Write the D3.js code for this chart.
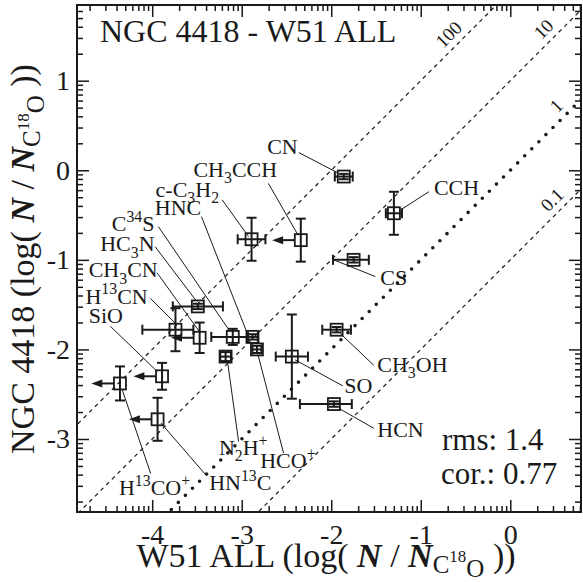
<!DOCTYPE html>
<html>
<head>
<meta charset="utf-8">
<script src="https://cdn.jsdelivr.net/npm/d3@7"></script>
<style>
  body { margin: 0; background: #fff; }
  svg { display: block; }
  text { font-family: "Liberation Serif", "Times New Roman", serif; fill: #1a1a1a; }
</style>
</head>
<body>
<svg id="chart" width="583" height="582"></svg>
<script>
// Molecule names (with _ for subscript, ^ for superscript)
const molecules = ["CN", "CCH", "CS", "CH_3CCH", "c-C_3H_2", "HC_3N", "H^{13}CN", "CH_3CN",
  "C^{34}S", "HNC", "HCO^+", "N_2H^+", "SiO", "H^{13}CO^+", "HN^{13}C", "SO", "CH_3OH", "HCN"];
// log(N / N_C18O) in W51 ALL
const w51 = [-1.86, -1.30, -1.75, -2.34, -2.89, -3.49, -3.74, -3.47,
  -3.10, -2.88, -2.83, -3.18, -3.89, -4.36, -3.94, -2.44, -1.94, -1.97];
// log(N / N_C18O) in NGC 4418
const ngc = [-0.07, -0.48, -1.00, -0.78, -0.77, -1.52, -1.78, -1.87,
  -1.86, -1.86, -2.00, -2.08, -2.30, -2.38, -2.78, -2.08, -1.78, -2.61];
// Uncertainties (dex)
const xErrLow = [0.10, 0.09, 0.23, 0, 0.155, 0.28, 0.37, 0,
  0.24, 0.06, 0.05, 0.06, 0, 0, 0, 0.18, 0.16, 0.38];
const xErrHigh = [0.10, 0.09, 0.17, 0, 0.155, 0.28, 0.20, 0,
  0.17, 0.06, 0.05, 0.06, 0, 0, 0, 0.18, 0.16, 0.20];
const yErr = [0.03, 0.24, 0.03, 0.24, 0.24, 0.03, 0.24, 0.17,
  0.09, 0.03, 0.04, 0.05, 0.15, 0.19, 0.24, 0.47, 0.03, 0.03];
// Upper limits in W51 ALL
const w51UpperLimit = [false, false, false, true, false, false, false, true,
  false, false, false, false, true, true, true, false, false, false];
const upperLimitLength = 0.32;

// Abundance-ratio reference lines (NGC 4418 / W51)
const ratioLines = [100, 10, 1, 0.1];
const ratioLabels = ["100", "10", "1", "0.1"];
const ratioLabelX = [-0.586, 0.474, 0.616, 0.568];

const xTicks = [-4, -3, -2, -1, 0];
const yTicks = [-3, -2, -1, 0, 1];

const titleText = "NGC 4418 - W51 ALL";
const rmsText = "rms: 1.4";
const corText = "cor.: 0.77";

// Label placement, pixel offsets from each point
const labelLayout = {
  "CN":         { text: [-76.6, -22.3], from: [-45, -24],     to: [-6.6, -4] },
  "CCH":        { text: [40, -18.3],    from: [35, -21.6],    to: [6.7, -3.3] },
  "CS":         { text: [26.7, 25],     from: [21.7, 16.7],   to: [-20, 0] },
  "CH_3CCH":    { text: [-107.4, -63.3],from: [-32.4, -56.7], to: [-2.7, -5] },
  "c-C_3H_2":   { text: [-96, -42.6],   from: [-29.3, -39.3], to: [-3, -2.6] },
  "HNC":        { text: [-97.7, -122.3],from: [-51, -120.3],  to: [-4.7, -2.3] },
  "C^{34}S":    { text: [-121, -105.6], from: [-74.4, -110.3],to: [-2.7, -5.3] },
  "HC_3N":      { text: [-97.7, -55],   from: [-42.7, -59.7], to: [-1.7, -5.7] },
  "CH_3CN":     { text: [-111, -60.3],  from: [-42.6, -65],   to: [-0.3, -6.3] },
  "H^{13}CN":   { text: [-90, -26],     from: [-25, -31.3],   to: [0, -6.3] },
  "SiO":        { text: [-73.4, -53.4], from: [-51.7, -50],   to: [-4.7, -4.7] },
  "H^{13}CO^+": { text: [-1, 111.7],    from: [30.7, 90],     to: [2.4, 6.7] },
  "HN^{13}C":   { text: [51.6, 70.7],   from: [48.3, 55.7],   to: [3.3, 3.7] },
  "N_2H^+":     { text: [-6.7, 98.3],   from: [13, 85],       to: [1.7, 3.3] },
  "HCO^+":      { text: [3.3, 118.7],   from: [26.6, 103.7],  to: [1, 5] },
  "SO":         { text: [52.3, 36.6],   from: [51, 29.3],     to: [3.3, 3.3] },
  "CH_3OH":     { text: [40.7, 42.4],   from: [37.3, 35.7],   to: [4, 4] },
  "HCN":        { text: [43.4, 32.7],   from: [40, 24.3],     to: [5, 4.3] }
};

const svg = d3.select("#chart");
const plot = { left: 77, right: 581, top: 5, bottom: 512 };

const x = d3.scaleLinear().domain([-4.84, 0.79]).range([plot.left, plot.right]);
const y = d3.scaleLinear().domain([-3.815, 1.845]).range([plot.bottom, plot.top]);

// log-style minor ticks within each decade
function minorTicks(domain) {
  const out = [];
  for (let n = Math.floor(domain[0]) - 1; n <= Math.ceil(domain[1]); n++) {
    for (let k = 2; k <= 9; k++) {
      const v = n + Math.log10(k);
      if (v > domain[0] && v < domain[1]) out.push(v);
    }
  }
  return out;
}

svg.append("defs").append("clipPath").attr("id", "plotClip")
  .append("rect")
  .attr("x", plot.left).attr("y", plot.top)
  .attr("width", plot.right - plot.left).attr("height", plot.bottom - plot.top);

// Ratio lines
const xd = x.domain();
const line = d3.line().x(d => x(d[0])).y(d => y(d[1]));
const gLines = svg.append("g").attr("clip-path", "url(#plotClip)");
ratioLines.forEach(r => {
  const off = Math.log10(r);
  const p = gLines.append("path")
    .attr("d", line([[xd[0] - 1, xd[0] - 1 + off], [xd[1] + 1, xd[1] + 1 + off]]))
    .attr("fill", "none").attr("stroke", "#1a1a1a");
  if (r === 1) {
    p.attr("stroke-width", 3.6).attr("stroke-dasharray", "0,10").attr("stroke-linecap", "round");
  } else {
    p.attr("stroke-width", 1.2).attr("stroke-dasharray", "4,4");
  }
});

ratioLines.forEach((r, i) => {
  const xv = ratioLabelX[i];
  const px = x(xv), py = y(xv + Math.log10(r));
  const d = 13 / Math.SQRT2;
  svg.append("text")
    .attr("transform", `translate(${px - d},${py - d}) rotate(-45)`)
    .attr("text-anchor", "middle").attr("dominant-baseline", "central")
    .attr("font-size", 19).text(ratioLabels[i]);
});

// Axes: inward ticks on all four sides
function styleAxis(g, labelled) {
  g.select(".domain").remove();
  g.selectAll(".tick line").attr("stroke", "#1a1a1a").attr("stroke-width", 1.5);
  if (!labelled) { g.selectAll("text").remove(); return; }
  g.selectAll("text").attr("fill", "#1a1a1a")
    .style("font-family", '"Liberation Serif", serif').attr("font-size", 28);
}
const xMinor = minorTicks(x.domain());
const yMinor = minorTicks(y.domain());

function addAxis(axis, transform, labelled) {
  svg.append("g").attr("transform", transform).call(axis).call(g => styleAxis(g, labelled));
}
addAxis(d3.axisBottom(x).tickValues(xTicks).tickSize(-12).tickPadding(12).tickFormat(d => String(d)),
  `translate(0,${plot.bottom})`, true);
addAxis(d3.axisBottom(x).tickValues(xMinor).tickSize(-6), `translate(0,${plot.bottom})`, false);
addAxis(d3.axisTop(x).tickValues(xTicks).tickSize(-12), `translate(0,${plot.top})`, false);
addAxis(d3.axisTop(x).tickValues(xMinor).tickSize(-6), `translate(0,${plot.top})`, false);

addAxis(d3.axisLeft(y).tickValues(yTicks).tickSize(-12).tickPadding(7).tickFormat(d => String(d)),
  `translate(${plot.left},0)`, true);
addAxis(d3.axisLeft(y).tickValues(yMinor).tickSize(-6), `translate(${plot.left},0)`, false);
addAxis(d3.axisRight(y).tickValues(yTicks).tickSize(-12), `translate(${plot.right},0)`, false);
addAxis(d3.axisRight(y).tickValues(yMinor).tickSize(-6), `translate(${plot.right},0)`, false);

svg.append("rect")
  .attr("x", plot.left).attr("y", plot.top)
  .attr("width", plot.right - plot.left).attr("height", plot.bottom - plot.top)
  .attr("fill", "none").attr("stroke", "#1a1a1a").attr("stroke-width", 2);

// Rich text: _x / _{..} subscript, ^x / ^{..} superscript
function parseRich(str) {
  const segs = [];
  let i = 0, buf = "";
  while (i < str.length) {
    const c = str[i];
    if (c === "_" || c === "^") {
      if (buf) { segs.push({ t: buf, m: 0 }); buf = ""; }
      let t;
      if (str[i + 1] === "{") {
        const j = str.indexOf("}", i + 2);
        t = str.slice(i + 2, j); i = j + 1;
      } else { t = str[i + 1]; i += 2; }
      segs.push({ t, m: c === "_" ? 1 : -1 });
    } else { buf += c; i++; }
  }
  if (buf) segs.push({ t: buf, m: 0 });
  return segs;
}
function richText(sel, str, size) {
  let cur = 0;
  parseRich(str).forEach(s => {
    const target = s.m === 1 ? 0.28 * size : s.m === -1 ? -0.42 * size : 0;
    sel.append("tspan")
      .attr("dy", target - cur)
      .attr("font-size", s.m === 0 ? size : size * 0.72)
      .text(s.t);
    cur = target;
  });
}

// Leader lines
const gLeaders = svg.append("g");
molecules.forEach((m, i) => {
  const L = labelLayout[m];
  const px = x(w51[i]), py = y(ngc[i]);
  gLeaders.append("line")
    .attr("x1", px + L.from[0]).attr("y1", py + L.from[1])
    .attr("x2", px + L.to[0]).attr("y2", py + L.to[1])
    .attr("stroke", "#1a1a1a").attr("stroke-width", 1);
});

// Error bars, upper-limit arrows, squares
const gPts = svg.append("g").attr("stroke", "#1a1a1a").attr("fill", "none");
const cap = 5, half = 6;
molecules.forEach((m, i) => {
  const px = x(w51[i]), py = y(ngc[i]);
  const y1 = y(ngc[i] + yErr[i]), y2 = y(ngc[i] - yErr[i]);
  gPts.append("line").attr("x1", px).attr("x2", px).attr("y1", y1).attr("y2", y2).attr("stroke-width", 2);
  gPts.append("line").attr("x1", px - cap).attr("x2", px + cap).attr("y1", y1).attr("y2", y1).attr("stroke-width", 2);
  gPts.append("line").attr("x1", px - cap).attr("x2", px + cap).attr("y1", y2).attr("y2", y2).attr("stroke-width", 2);
  if (w51UpperLimit[i]) {
    const tip = x(w51[i] - upperLimitLength);
    gPts.append("line").attr("x1", px - half).attr("x2", tip + 6).attr("y1", py).attr("y2", py).attr("stroke-width", 2);
    gPts.append("path")
      .attr("d", `M${tip},${py} L${tip + 11},${py - 4} L${tip + 11},${py + 4} Z`)
      .attr("fill", "#1a1a1a").attr("stroke", "none");
  } else {
    const x1 = x(w51[i] - xErrLow[i]), x2 = x(w51[i] + xErrHigh[i]);
    gPts.append("line").attr("x1", x1).attr("x2", x2).attr("y1", py).attr("y2", py).attr("stroke-width", 2);
    gPts.append("line").attr("x1", x1).attr("x2", x1).attr("y1", py - cap).attr("y2", py + cap).attr("stroke-width", 2);
    gPts.append("line").attr("x1", x2).attr("x2", x2).attr("y1", py - cap).attr("y2", py + cap).attr("stroke-width", 2);
  }
  gPts.append("rect")
    .attr("x", px - half).attr("y", py - half)
    .attr("width", 2 * half).attr("height", 2 * half)
    .attr("stroke-width", 1.8);
});

// Molecule labels
molecules.forEach((m, i) => {
  const L = labelLayout[m];
  const px = x(w51[i]), py = y(ngc[i]);
  const t = svg.append("text").attr("x", px + L.text[0]).attr("y", py + L.text[1]);
  richText(t, m, 22);
});

// Title and statistics
svg.append("text").attr("x", 100).attr("y", 42).attr("font-size", 32).text(titleText);
svg.append("text").attr("x", 442).attr("y", 450).attr("font-size", 31).text(rmsText);
svg.append("text").attr("x", 441).attr("y", 484).attr("font-size", 31).text(corText);

// Axis titles: "<source> (log( N / N_C18O ))"
function axisTitle(sel, prefix) {
  const base = 34;
  const parts = [
    { t: prefix + " (log( ", dy: 0, fs: base },
    { t: "N", dy: 0, fs: base, bi: true },
    { t: " / ", dy: 0, fs: base },
    { t: "N", dy: 0, fs: base, bi: true },
    { t: "C", dy: 6, fs: 25 },
    { t: "18", dy: -11, fs: 17 },
    { t: "O", dy: 15, fs: 25 },
    { t: " ))", dy: -10, fs: base }
  ];
  parts.forEach(p => {
    const ts = sel.append("tspan").attr("dy", p.dy).attr("font-size", p.fs).text(p.t);
    if (p.bi) ts.attr("font-weight", "bold").attr("font-style", "italic");
  });
}
const xTitle = svg.append("text").attr("x", 326).attr("y", 567).attr("text-anchor", "middle");
axisTitle(xTitle, "W51 ALL");
const yTitle = svg.append("text")
  .attr("transform", `translate(34,259) rotate(-90)`)
  .attr("text-anchor", "middle");
axisTitle(yTitle, "NGC 4418");
</script>
</body>
</html>
